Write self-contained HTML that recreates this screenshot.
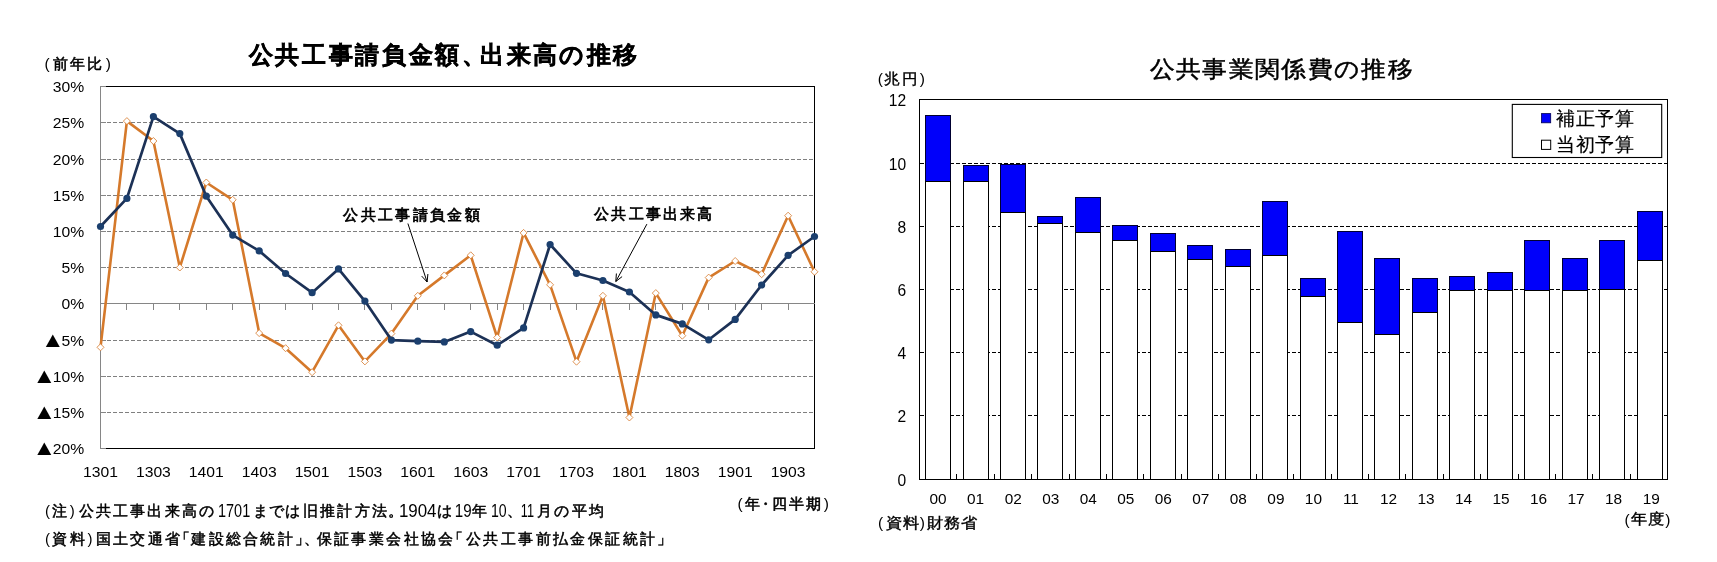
<!DOCTYPE html>
<html lang="ja">
<head>
<meta charset="utf-8">
<title>公共工事請負金額、出来高の推移 / 公共事業関係費の推移</title>
<style>
html,body{margin:0;padding:0;background:#fff;}
body{width:1717px;height:562px;overflow:hidden;font-family:"Liberation Sans", sans-serif;}
svg{display:block;will-change:transform;}
svg text{font-family:"Liberation Sans", sans-serif;}
</style>
</head>
<body>
<svg width="1717" height="562" viewBox="0 0 1717 562">
<rect x="0" y="0" width="1717" height="562" fill="#fff"/>
<g id="left-chart">
<g shape-rendering="crispEdges">
<path d="M100.5 86.5 H814.5 V448.5 H100.5" fill="none" stroke="#000" stroke-width="1.2"/>
<line x1="100.5" x2="814.0" y1="122.5" y2="122.5" stroke="#7f7f7f" stroke-width="1" stroke-dasharray="4 2"/>
<line x1="100.5" x2="814.0" y1="159.5" y2="159.5" stroke="#7f7f7f" stroke-width="1" stroke-dasharray="4 2"/>
<line x1="100.5" x2="814.0" y1="195.5" y2="195.5" stroke="#7f7f7f" stroke-width="1" stroke-dasharray="4 2"/>
<line x1="100.5" x2="814.0" y1="231.5" y2="231.5" stroke="#7f7f7f" stroke-width="1" stroke-dasharray="4 2"/>
<line x1="100.5" x2="814.0" y1="267.5" y2="267.5" stroke="#7f7f7f" stroke-width="1" stroke-dasharray="4 2"/>
<line x1="100.5" x2="814.0" y1="340.5" y2="340.5" stroke="#7f7f7f" stroke-width="1" stroke-dasharray="4 2"/>
<line x1="100.5" x2="814.0" y1="376.5" y2="376.5" stroke="#7f7f7f" stroke-width="1" stroke-dasharray="4 2"/>
<line x1="100.5" x2="814.0" y1="412.5" y2="412.5" stroke="#7f7f7f" stroke-width="1" stroke-dasharray="4 2"/>
<line x1="100.5" x2="100.5" y1="85.9" y2="449.1" stroke="#868686" stroke-width="1.3"/>
<line x1="100.5" x2="106.0" y1="86.5" y2="86.5" stroke="#868686" stroke-width="1.3"/>
<line x1="100.5" x2="106.0" y1="122.5" y2="122.5" stroke="#868686" stroke-width="1.3"/>
<line x1="100.5" x2="106.0" y1="159.5" y2="159.5" stroke="#868686" stroke-width="1.3"/>
<line x1="100.5" x2="106.0" y1="195.5" y2="195.5" stroke="#868686" stroke-width="1.3"/>
<line x1="100.5" x2="106.0" y1="231.5" y2="231.5" stroke="#868686" stroke-width="1.3"/>
<line x1="100.5" x2="106.0" y1="267.5" y2="267.5" stroke="#868686" stroke-width="1.3"/>
<line x1="100.5" x2="106.0" y1="340.5" y2="340.5" stroke="#868686" stroke-width="1.3"/>
<line x1="100.5" x2="106.0" y1="376.5" y2="376.5" stroke="#868686" stroke-width="1.3"/>
<line x1="100.5" x2="106.0" y1="412.5" y2="412.5" stroke="#868686" stroke-width="1.3"/>
<line x1="100.5" x2="106.0" y1="448.5" y2="448.5" stroke="#868686" stroke-width="1.3"/>
<line x1="100.5" x2="814.5" y1="303.5" y2="303.5" stroke="#868686" stroke-width="1.2"/>
<line x1="126.9" x2="126.9" y1="303.5" y2="309.5" stroke="#868686" stroke-width="1.1"/>
<line x1="153.4" x2="153.4" y1="303.5" y2="309.5" stroke="#868686" stroke-width="1.1"/>
<line x1="179.8" x2="179.8" y1="303.5" y2="309.5" stroke="#868686" stroke-width="1.1"/>
<line x1="206.3" x2="206.3" y1="303.5" y2="309.5" stroke="#868686" stroke-width="1.1"/>
<line x1="232.7" x2="232.7" y1="303.5" y2="309.5" stroke="#868686" stroke-width="1.1"/>
<line x1="259.2" x2="259.2" y1="303.5" y2="309.5" stroke="#868686" stroke-width="1.1"/>
<line x1="285.6" x2="285.6" y1="303.5" y2="309.5" stroke="#868686" stroke-width="1.1"/>
<line x1="312.1" x2="312.1" y1="303.5" y2="309.5" stroke="#868686" stroke-width="1.1"/>
<line x1="338.5" x2="338.5" y1="303.5" y2="309.5" stroke="#868686" stroke-width="1.1"/>
<line x1="364.9" x2="364.9" y1="303.5" y2="309.5" stroke="#868686" stroke-width="1.1"/>
<line x1="391.4" x2="391.4" y1="303.5" y2="309.5" stroke="#868686" stroke-width="1.1"/>
<line x1="417.8" x2="417.8" y1="303.5" y2="309.5" stroke="#868686" stroke-width="1.1"/>
<line x1="444.3" x2="444.3" y1="303.5" y2="309.5" stroke="#868686" stroke-width="1.1"/>
<line x1="470.7" x2="470.7" y1="303.5" y2="309.5" stroke="#868686" stroke-width="1.1"/>
<line x1="497.2" x2="497.2" y1="303.5" y2="309.5" stroke="#868686" stroke-width="1.1"/>
<line x1="523.6" x2="523.6" y1="303.5" y2="309.5" stroke="#868686" stroke-width="1.1"/>
<line x1="550.1" x2="550.1" y1="303.5" y2="309.5" stroke="#868686" stroke-width="1.1"/>
<line x1="576.5" x2="576.5" y1="303.5" y2="309.5" stroke="#868686" stroke-width="1.1"/>
<line x1="602.9" x2="602.9" y1="303.5" y2="309.5" stroke="#868686" stroke-width="1.1"/>
<line x1="629.4" x2="629.4" y1="303.5" y2="309.5" stroke="#868686" stroke-width="1.1"/>
<line x1="655.8" x2="655.8" y1="303.5" y2="309.5" stroke="#868686" stroke-width="1.1"/>
<line x1="682.3" x2="682.3" y1="303.5" y2="309.5" stroke="#868686" stroke-width="1.1"/>
<line x1="708.7" x2="708.7" y1="303.5" y2="309.5" stroke="#868686" stroke-width="1.1"/>
<line x1="735.2" x2="735.2" y1="303.5" y2="309.5" stroke="#868686" stroke-width="1.1"/>
<line x1="761.6" x2="761.6" y1="303.5" y2="309.5" stroke="#868686" stroke-width="1.1"/>
<line x1="788.1" x2="788.1" y1="303.5" y2="309.5" stroke="#868686" stroke-width="1.1"/>
</g>
<polyline points="100.5,347.3 126.9,121.1 153.4,141.0 179.8,267.5 206.3,182.5 232.7,199.8 259.2,333.1 285.6,348.2 312.1,372.2 338.5,325.3 364.9,361.4 391.4,333.6 417.8,295.8 444.3,275.4 470.7,255.3 497.2,337.5 523.6,232.9 550.1,284.8 576.5,361.7 602.9,295.8 629.4,417.5 655.8,293.1 682.3,335.7 708.7,277.6 735.2,261.0 761.6,274.2 788.1,215.7 814.5,271.8" fill="none" stroke="#d5792b" stroke-width="2.6" stroke-linejoin="round" stroke-linecap="round"/>
<path d="M97.0 347.3 L100.5 343.8 L104.0 347.3 L100.5 350.8 Z" fill="#fff" stroke="#d5792b" stroke-width="0.8"/>
<path d="M123.4 121.1 L126.9 117.6 L130.4 121.1 L126.9 124.6 Z" fill="#fff" stroke="#d5792b" stroke-width="0.8"/>
<path d="M149.9 141.0 L153.4 137.5 L156.9 141.0 L153.4 144.5 Z" fill="#fff" stroke="#d5792b" stroke-width="0.8"/>
<path d="M176.3 267.5 L179.8 264.0 L183.3 267.5 L179.8 271.0 Z" fill="#fff" stroke="#d5792b" stroke-width="0.8"/>
<path d="M202.8 182.5 L206.3 179.0 L209.8 182.5 L206.3 186.0 Z" fill="#fff" stroke="#d5792b" stroke-width="0.8"/>
<path d="M229.2 199.8 L232.7 196.3 L236.2 199.8 L232.7 203.3 Z" fill="#fff" stroke="#d5792b" stroke-width="0.8"/>
<path d="M255.7 333.1 L259.2 329.6 L262.7 333.1 L259.2 336.6 Z" fill="#fff" stroke="#d5792b" stroke-width="0.8"/>
<path d="M282.1 348.2 L285.6 344.7 L289.1 348.2 L285.6 351.7 Z" fill="#fff" stroke="#d5792b" stroke-width="0.8"/>
<path d="M308.6 372.2 L312.1 368.7 L315.6 372.2 L312.1 375.7 Z" fill="#fff" stroke="#d5792b" stroke-width="0.8"/>
<path d="M335.0 325.3 L338.5 321.8 L342.0 325.3 L338.5 328.8 Z" fill="#fff" stroke="#d5792b" stroke-width="0.8"/>
<path d="M361.4 361.4 L364.9 357.9 L368.4 361.4 L364.9 364.9 Z" fill="#fff" stroke="#d5792b" stroke-width="0.8"/>
<path d="M387.9 333.6 L391.4 330.1 L394.9 333.6 L391.4 337.1 Z" fill="#fff" stroke="#d5792b" stroke-width="0.8"/>
<path d="M414.3 295.8 L417.8 292.3 L421.3 295.8 L417.8 299.3 Z" fill="#fff" stroke="#d5792b" stroke-width="0.8"/>
<path d="M440.8 275.4 L444.3 271.9 L447.8 275.4 L444.3 278.9 Z" fill="#fff" stroke="#d5792b" stroke-width="0.8"/>
<path d="M467.2 255.3 L470.7 251.8 L474.2 255.3 L470.7 258.8 Z" fill="#fff" stroke="#d5792b" stroke-width="0.8"/>
<path d="M493.7 337.5 L497.2 334.0 L500.7 337.5 L497.2 341.0 Z" fill="#fff" stroke="#d5792b" stroke-width="0.8"/>
<path d="M520.1 232.9 L523.6 229.4 L527.1 232.9 L523.6 236.4 Z" fill="#fff" stroke="#d5792b" stroke-width="0.8"/>
<path d="M546.6 284.8 L550.1 281.3 L553.6 284.8 L550.1 288.3 Z" fill="#fff" stroke="#d5792b" stroke-width="0.8"/>
<path d="M573.0 361.7 L576.5 358.2 L580.0 361.7 L576.5 365.2 Z" fill="#fff" stroke="#d5792b" stroke-width="0.8"/>
<path d="M599.4 295.8 L602.9 292.3 L606.4 295.8 L602.9 299.3 Z" fill="#fff" stroke="#d5792b" stroke-width="0.8"/>
<path d="M625.9 417.5 L629.4 414.0 L632.9 417.5 L629.4 421.0 Z" fill="#fff" stroke="#d5792b" stroke-width="0.8"/>
<path d="M652.3 293.1 L655.8 289.6 L659.3 293.1 L655.8 296.6 Z" fill="#fff" stroke="#d5792b" stroke-width="0.8"/>
<path d="M678.8 335.7 L682.3 332.2 L685.8 335.7 L682.3 339.2 Z" fill="#fff" stroke="#d5792b" stroke-width="0.8"/>
<path d="M705.2 277.6 L708.7 274.1 L712.2 277.6 L708.7 281.1 Z" fill="#fff" stroke="#d5792b" stroke-width="0.8"/>
<path d="M731.7 261.0 L735.2 257.5 L738.7 261.0 L735.2 264.5 Z" fill="#fff" stroke="#d5792b" stroke-width="0.8"/>
<path d="M758.1 274.2 L761.6 270.7 L765.1 274.2 L761.6 277.7 Z" fill="#fff" stroke="#d5792b" stroke-width="0.8"/>
<path d="M784.6 215.7 L788.1 212.2 L791.6 215.7 L788.1 219.2 Z" fill="#fff" stroke="#d5792b" stroke-width="0.8"/>
<path d="M811.0 271.8 L814.5 268.3 L818.0 271.8 L814.5 275.3 Z" fill="#fff" stroke="#d5792b" stroke-width="0.8"/>
<polyline points="100.5,226.5 126.9,198.4 153.4,116.7 179.8,133.6 206.3,196.2 232.7,235.1 259.2,250.9 285.6,273.5 312.1,292.7 338.5,268.9 364.9,301.1 391.4,340.1 417.8,341.2 444.3,341.9 470.7,331.6 497.2,345.2 523.6,327.9 550.1,244.5 576.5,273.3 602.9,280.5 629.4,292.0 655.8,314.9 682.3,323.9 708.7,339.8 735.2,319.4 761.6,285.0 788.1,255.3 814.5,236.5" fill="none" stroke="#1c3156" stroke-width="2.7" stroke-linejoin="round" stroke-linecap="round"/>
<circle cx="100.5" cy="226.5" r="3.6" fill="#1b3f6e"/>
<circle cx="126.9" cy="198.4" r="3.6" fill="#1b3f6e"/>
<circle cx="153.4" cy="116.7" r="3.6" fill="#1b3f6e"/>
<circle cx="179.8" cy="133.6" r="3.6" fill="#1b3f6e"/>
<circle cx="206.3" cy="196.2" r="3.6" fill="#1b3f6e"/>
<circle cx="232.7" cy="235.1" r="3.6" fill="#1b3f6e"/>
<circle cx="259.2" cy="250.9" r="3.6" fill="#1b3f6e"/>
<circle cx="285.6" cy="273.5" r="3.6" fill="#1b3f6e"/>
<circle cx="312.1" cy="292.7" r="3.6" fill="#1b3f6e"/>
<circle cx="338.5" cy="268.9" r="3.6" fill="#1b3f6e"/>
<circle cx="364.9" cy="301.1" r="3.6" fill="#1b3f6e"/>
<circle cx="391.4" cy="340.1" r="3.6" fill="#1b3f6e"/>
<circle cx="417.8" cy="341.2" r="3.6" fill="#1b3f6e"/>
<circle cx="444.3" cy="341.9" r="3.6" fill="#1b3f6e"/>
<circle cx="470.7" cy="331.6" r="3.6" fill="#1b3f6e"/>
<circle cx="497.2" cy="345.2" r="3.6" fill="#1b3f6e"/>
<circle cx="523.6" cy="327.9" r="3.6" fill="#1b3f6e"/>
<circle cx="550.1" cy="244.5" r="3.6" fill="#1b3f6e"/>
<circle cx="576.5" cy="273.3" r="3.6" fill="#1b3f6e"/>
<circle cx="602.9" cy="280.5" r="3.6" fill="#1b3f6e"/>
<circle cx="629.4" cy="292.0" r="3.6" fill="#1b3f6e"/>
<circle cx="655.8" cy="314.9" r="3.6" fill="#1b3f6e"/>
<circle cx="682.3" cy="323.9" r="3.6" fill="#1b3f6e"/>
<circle cx="708.7" cy="339.8" r="3.6" fill="#1b3f6e"/>
<circle cx="735.2" cy="319.4" r="3.6" fill="#1b3f6e"/>
<circle cx="761.6" cy="285.0" r="3.6" fill="#1b3f6e"/>
<circle cx="788.1" cy="255.3" r="3.6" fill="#1b3f6e"/>
<circle cx="814.5" cy="236.5" r="3.6" fill="#1b3f6e"/>
<text x="84.2" y="91.6" font-size="15.4" text-anchor="end" textLength="31.4" lengthAdjust="spacingAndGlyphs" fill="#000">30%</text>
<text x="84.2" y="127.6" font-size="15.4" text-anchor="end" textLength="31.4" lengthAdjust="spacingAndGlyphs" fill="#000">25%</text>
<text x="84.2" y="164.6" font-size="15.4" text-anchor="end" textLength="31.4" lengthAdjust="spacingAndGlyphs" fill="#000">20%</text>
<text x="84.2" y="200.6" font-size="15.4" text-anchor="end" textLength="31.4" lengthAdjust="spacingAndGlyphs" fill="#000">15%</text>
<text x="84.2" y="236.6" font-size="15.4" text-anchor="end" textLength="31.4" lengthAdjust="spacingAndGlyphs" fill="#000">10%</text>
<text x="84.2" y="272.6" font-size="15.4" text-anchor="end" textLength="22.7" lengthAdjust="spacingAndGlyphs" fill="#000">5%</text>
<text x="84.2" y="308.6" font-size="15.4" text-anchor="end" textLength="22.7" lengthAdjust="spacingAndGlyphs" fill="#000">0%</text>
<text x="84.2" y="345.6" font-size="15.4" text-anchor="end" textLength="22.7" lengthAdjust="spacingAndGlyphs" fill="#000">5%</text>
<text x="64.7" y="346.8" font-size="21.3" text-anchor="end" textLength="23.6" lengthAdjust="spacingAndGlyphs" fill="#000">▲</text>
<text x="84.2" y="381.6" font-size="15.4" text-anchor="end" textLength="31.4" lengthAdjust="spacingAndGlyphs" fill="#000">10%</text>
<text x="56.0" y="382.8" font-size="21.3" text-anchor="end" textLength="23.6" lengthAdjust="spacingAndGlyphs" fill="#000">▲</text>
<text x="84.2" y="417.6" font-size="15.4" text-anchor="end" textLength="31.4" lengthAdjust="spacingAndGlyphs" fill="#000">15%</text>
<text x="56.0" y="418.8" font-size="21.3" text-anchor="end" textLength="23.6" lengthAdjust="spacingAndGlyphs" fill="#000">▲</text>
<text x="84.2" y="453.6" font-size="15.4" text-anchor="end" textLength="31.4" lengthAdjust="spacingAndGlyphs" fill="#000">20%</text>
<text x="56.0" y="454.8" font-size="21.3" text-anchor="end" textLength="23.6" lengthAdjust="spacingAndGlyphs" fill="#000">▲</text>
<text x="100.5" y="476.7" font-size="15.4" text-anchor="middle" textLength="34.9" lengthAdjust="spacingAndGlyphs" fill="#000">1301</text>
<text x="153.4" y="476.7" font-size="15.4" text-anchor="middle" textLength="34.9" lengthAdjust="spacingAndGlyphs" fill="#000">1303</text>
<text x="206.3" y="476.7" font-size="15.4" text-anchor="middle" textLength="34.9" lengthAdjust="spacingAndGlyphs" fill="#000">1401</text>
<text x="259.2" y="476.7" font-size="15.4" text-anchor="middle" textLength="34.9" lengthAdjust="spacingAndGlyphs" fill="#000">1403</text>
<text x="312.1" y="476.7" font-size="15.4" text-anchor="middle" textLength="34.9" lengthAdjust="spacingAndGlyphs" fill="#000">1501</text>
<text x="364.9" y="476.7" font-size="15.4" text-anchor="middle" textLength="34.9" lengthAdjust="spacingAndGlyphs" fill="#000">1503</text>
<text x="417.8" y="476.7" font-size="15.4" text-anchor="middle" textLength="34.9" lengthAdjust="spacingAndGlyphs" fill="#000">1601</text>
<text x="470.7" y="476.7" font-size="15.4" text-anchor="middle" textLength="34.9" lengthAdjust="spacingAndGlyphs" fill="#000">1603</text>
<text x="523.6" y="476.7" font-size="15.4" text-anchor="middle" textLength="34.9" lengthAdjust="spacingAndGlyphs" fill="#000">1701</text>
<text x="576.5" y="476.7" font-size="15.4" text-anchor="middle" textLength="34.9" lengthAdjust="spacingAndGlyphs" fill="#000">1703</text>
<text x="629.4" y="476.7" font-size="15.4" text-anchor="middle" textLength="34.9" lengthAdjust="spacingAndGlyphs" fill="#000">1801</text>
<text x="682.3" y="476.7" font-size="15.4" text-anchor="middle" textLength="34.9" lengthAdjust="spacingAndGlyphs" fill="#000">1803</text>
<text x="735.2" y="476.7" font-size="15.4" text-anchor="middle" textLength="34.9" lengthAdjust="spacingAndGlyphs" fill="#000">1901</text>
<text x="788.1" y="476.7" font-size="15.4" text-anchor="middle" textLength="34.9" lengthAdjust="spacingAndGlyphs" fill="#000">1903</text>
<text x="248.5" y="62.9" font-size="24" font-weight="bold" stroke="#000" stroke-width="0.45" letter-spacing="2.7" fill="#000">公共工事請負金額</text>
<text x="461.6" y="62.9" font-size="24" font-weight="bold" stroke="#000" stroke-width="0.45" fill="#000">、</text>
<text x="480.4" y="62.9" font-size="24" font-weight="bold" stroke="#000" stroke-width="0.45" letter-spacing="2.3" fill="#000">出来高の推移</text>
<text x="44.6" y="69.1" font-size="15.5" fill="#000">(</text>
<text x="52.5" y="68.8" font-size="15" stroke="#000" stroke-width="0.55" letter-spacing="2.35" fill="#000">前年比</text>
<text x="105.8" y="69.1" font-size="15.5" fill="#000">)</text>
<text x="737.5" y="508.8" font-size="15.5" fill="#000">(</text>
<text x="745.4" y="508.8" font-size="15" stroke="#000" stroke-width="0.55" fill="#000">年</text>
<text x="758.4" y="508.8" font-size="15" stroke="#000" stroke-width="0.55" fill="#000">・</text>
<text x="772.0" y="508.8" font-size="15" stroke="#000" stroke-width="0.55" letter-spacing="2.0" fill="#000">四半期</text>
<text x="823.8" y="508.8" font-size="15.5" fill="#000">)</text>
<text x="343.2" y="220.0" font-size="15" stroke="#000" stroke-width="0.7" letter-spacing="2.35" fill="#000">公共工事請負金額</text>
<text x="594.3" y="219.0" font-size="15" stroke="#000" stroke-width="0.7" letter-spacing="2.2" fill="#000">公共工事出来高</text>
<line x1="407.9" y1="223.5" x2="427.1" y2="282.0" stroke="#000" stroke-width="1"/>
<line x1="427.1" y1="282.0" x2="427.9" y2="274.0" stroke="#000" stroke-width="1"/>
<line x1="427.1" y1="282.0" x2="421.7" y2="276.1" stroke="#000" stroke-width="1"/>
<line x1="646.9" y1="224.1" x2="615.8" y2="281.5" stroke="#000" stroke-width="1"/>
<line x1="615.8" y1="281.5" x2="622.1" y2="276.6" stroke="#000" stroke-width="1"/>
<line x1="615.8" y1="281.5" x2="616.4" y2="273.5" stroke="#000" stroke-width="1"/>
<text x="45.0" y="515.8" font-size="15" fill="#000">(</text>
<text x="52.2" y="515.9" font-size="15" stroke="#000" stroke-width="0.5" fill="#000">注</text>
<text x="69.8" y="515.8" font-size="15" fill="#000">)</text>
<text x="78.9" y="515.9" font-size="15" stroke="#000" stroke-width="0.5" letter-spacing="2.15" fill="#000">公共工事出来高の</text>
<text x="218.0" y="516.7" font-size="17.5" textLength="32.2" lengthAdjust="spacingAndGlyphs" fill="#000">1701</text>
<text x="252.9" y="515.9" font-size="15" stroke="#000" stroke-width="0.5" letter-spacing="1.1" fill="#000">までは</text>
<text x="303.1" y="515.9" font-size="15" stroke="#000" stroke-width="0.5" letter-spacing="2.15" fill="#000">旧推計方法</text>
<text x="388.2" y="515.9" font-size="15" stroke="#000" stroke-width="0.5" fill="#000">。</text>
<text x="398.9" y="516.7" font-size="17.5" textLength="37.6" lengthAdjust="spacingAndGlyphs" fill="#000">1904</text>
<text x="436.6" y="515.9" font-size="15" stroke="#000" stroke-width="0.5" fill="#000">は</text>
<text x="454.8" y="516.7" font-size="17.5" textLength="16.8" lengthAdjust="spacingAndGlyphs" fill="#000">19</text>
<text x="472.4" y="515.9" font-size="15" stroke="#000" stroke-width="0.5" fill="#000">年</text>
<text x="491.0" y="516.7" font-size="17.5" textLength="15.7" lengthAdjust="spacingAndGlyphs" fill="#000">10</text>
<text x="506.6" y="515.9" font-size="15" stroke="#000" stroke-width="0.5" fill="#000">、</text>
<text x="520.8" y="516.7" font-size="17.5" textLength="13.2" lengthAdjust="spacingAndGlyphs" fill="#000">11</text>
<text x="536.8" y="515.9" font-size="15" stroke="#000" stroke-width="0.5" letter-spacing="2.5" fill="#000">月の平均</text>
<text x="44.9" y="544.0" font-size="15" fill="#000">(</text>
<text x="52.2" y="544.1" font-size="15" stroke="#000" stroke-width="0.5" letter-spacing="2.4" fill="#000">資料</text>
<text x="87.5" y="544.0" font-size="15" fill="#000">)</text>
<text x="96.3" y="544.1" font-size="15" stroke="#000" stroke-width="0.5" letter-spacing="2.1" fill="#000">国土交通省</text>
<text x="174.5" y="544.1" font-size="15" stroke="#000" stroke-width="0.5" fill="#000">「</text>
<text x="191.3" y="544.1" font-size="15" stroke="#000" stroke-width="0.5" letter-spacing="2.3" fill="#000">建設総合統計</text>
<text x="294.7" y="544.1" font-size="15" stroke="#000" stroke-width="0.5" fill="#000">」</text>
<text x="303.7" y="544.1" font-size="15" stroke="#000" stroke-width="0.5" fill="#000">、</text>
<text x="316.7" y="544.1" font-size="15" stroke="#000" stroke-width="0.5" letter-spacing="2.39" fill="#000">保証事業会社協会</text>
<text x="448.0" y="544.1" font-size="15" stroke="#000" stroke-width="0.5" fill="#000">「</text>
<text x="466.1" y="544.1" font-size="15" stroke="#000" stroke-width="0.5" letter-spacing="2.39" fill="#000">公共工事前払金保証統計</text>
<text x="656.7" y="544.1" font-size="15" stroke="#000" stroke-width="0.5" fill="#000">」</text>
</g>
<g id="right-chart">
<g shape-rendering="crispEdges">
<line x1="919.5" x2="1667.7" y1="415.5" y2="415.5" stroke="#000" stroke-width="1" stroke-dasharray="4.5 1.5"/>
<line x1="919.5" x2="1667.7" y1="352.3" y2="352.3" stroke="#000" stroke-width="1" stroke-dasharray="4.5 1.5"/>
<line x1="919.5" x2="1667.7" y1="289.3" y2="289.3" stroke="#000" stroke-width="1" stroke-dasharray="4.5 1.5"/>
<line x1="919.5" x2="1667.7" y1="226.5" y2="226.5" stroke="#000" stroke-width="1" stroke-dasharray="4.5 1.5"/>
<line x1="919.5" x2="1667.7" y1="163.3" y2="163.3" stroke="#000" stroke-width="1" stroke-dasharray="4.5 1.5"/>
<rect x="925.5" y="115.9" width="25" height="65.1" fill="#0000fa" stroke="#000030" stroke-width="1"/>
<rect x="925.5" y="181.0" width="25" height="298.2" fill="#fff" stroke="#000" stroke-width="1"/>
<rect x="963.5" y="165.5" width="25" height="15.5" fill="#0000fa" stroke="#000030" stroke-width="1"/>
<rect x="963.5" y="181.0" width="25" height="298.2" fill="#fff" stroke="#000" stroke-width="1"/>
<rect x="1000.5" y="164.2" width="25" height="48.3" fill="#0000fa" stroke="#000030" stroke-width="1"/>
<rect x="1000.5" y="212.6" width="25" height="266.6" fill="#fff" stroke="#000" stroke-width="1"/>
<rect x="1037.5" y="216.4" width="25" height="7.0" fill="#0000fa" stroke="#000030" stroke-width="1"/>
<rect x="1037.5" y="223.3" width="25" height="255.9" fill="#fff" stroke="#000" stroke-width="1"/>
<rect x="1075.5" y="197.4" width="25" height="34.7" fill="#0000fa" stroke="#000030" stroke-width="1"/>
<rect x="1075.5" y="232.2" width="25" height="247.0" fill="#fff" stroke="#000" stroke-width="1"/>
<rect x="1112.5" y="225.6" width="25" height="14.8" fill="#0000fa" stroke="#000030" stroke-width="1"/>
<rect x="1112.5" y="240.3" width="25" height="238.9" fill="#fff" stroke="#000" stroke-width="1"/>
<rect x="1150.5" y="233.4" width="25" height="18.2" fill="#0000fa" stroke="#000030" stroke-width="1"/>
<rect x="1150.5" y="251.6" width="25" height="227.6" fill="#fff" stroke="#000" stroke-width="1"/>
<rect x="1187.5" y="245.3" width="25" height="13.8" fill="#0000fa" stroke="#000030" stroke-width="1"/>
<rect x="1187.5" y="259.2" width="25" height="220.0" fill="#fff" stroke="#000" stroke-width="1"/>
<rect x="1225.5" y="249.4" width="25" height="17.0" fill="#0000fa" stroke="#000030" stroke-width="1"/>
<rect x="1225.5" y="266.4" width="25" height="212.8" fill="#fff" stroke="#000" stroke-width="1"/>
<rect x="1262.5" y="201.2" width="25" height="54.2" fill="#0000fa" stroke="#000030" stroke-width="1"/>
<rect x="1262.5" y="255.4" width="25" height="223.8" fill="#fff" stroke="#000" stroke-width="1"/>
<rect x="1300.5" y="278.0" width="25" height="18.5" fill="#0000fa" stroke="#000030" stroke-width="1"/>
<rect x="1300.5" y="296.5" width="25" height="182.7" fill="#fff" stroke="#000" stroke-width="1"/>
<rect x="1337.5" y="231.2" width="25" height="91.2" fill="#0000fa" stroke="#000030" stroke-width="1"/>
<rect x="1337.5" y="322.4" width="25" height="156.8" fill="#fff" stroke="#000" stroke-width="1"/>
<rect x="1374.5" y="258.2" width="25" height="75.8" fill="#0000fa" stroke="#000030" stroke-width="1"/>
<rect x="1374.5" y="334.0" width="25" height="145.2" fill="#fff" stroke="#000" stroke-width="1"/>
<rect x="1412.5" y="278.0" width="25" height="34.3" fill="#0000fa" stroke="#000030" stroke-width="1"/>
<rect x="1412.5" y="312.3" width="25" height="166.9" fill="#fff" stroke="#000" stroke-width="1"/>
<rect x="1449.5" y="276.1" width="25" height="14.4" fill="#0000fa" stroke="#000030" stroke-width="1"/>
<rect x="1449.5" y="290.6" width="25" height="188.6" fill="#fff" stroke="#000" stroke-width="1"/>
<rect x="1487.5" y="272.0" width="25" height="18.5" fill="#0000fa" stroke="#000030" stroke-width="1"/>
<rect x="1487.5" y="290.6" width="25" height="188.6" fill="#fff" stroke="#000" stroke-width="1"/>
<rect x="1524.5" y="240.3" width="25" height="50.2" fill="#0000fa" stroke="#000030" stroke-width="1"/>
<rect x="1524.5" y="290.6" width="25" height="188.6" fill="#fff" stroke="#000" stroke-width="1"/>
<rect x="1562.5" y="258.2" width="25" height="32.3" fill="#0000fa" stroke="#000030" stroke-width="1"/>
<rect x="1562.5" y="290.6" width="25" height="188.6" fill="#fff" stroke="#000" stroke-width="1"/>
<rect x="1599.5" y="240.3" width="25" height="49.0" fill="#0000fa" stroke="#000030" stroke-width="1"/>
<rect x="1599.5" y="289.3" width="25" height="189.9" fill="#fff" stroke="#000" stroke-width="1"/>
<rect x="1637.5" y="211.3" width="25" height="49.4" fill="#0000fa" stroke="#000030" stroke-width="1"/>
<rect x="1637.5" y="260.7" width="25" height="218.5" fill="#fff" stroke="#000" stroke-width="1"/>
<line x1="956.5" x2="956.5" y1="479.2" y2="473.7" stroke="#000" stroke-width="1"/>
<line x1="994.5" x2="994.5" y1="479.2" y2="473.7" stroke="#000" stroke-width="1"/>
<line x1="1031.5" x2="1031.5" y1="479.2" y2="473.7" stroke="#000" stroke-width="1"/>
<line x1="1069.5" x2="1069.5" y1="479.2" y2="473.7" stroke="#000" stroke-width="1"/>
<line x1="1106.5" x2="1106.5" y1="479.2" y2="473.7" stroke="#000" stroke-width="1"/>
<line x1="1143.5" x2="1143.5" y1="479.2" y2="473.7" stroke="#000" stroke-width="1"/>
<line x1="1181.5" x2="1181.5" y1="479.2" y2="473.7" stroke="#000" stroke-width="1"/>
<line x1="1218.5" x2="1218.5" y1="479.2" y2="473.7" stroke="#000" stroke-width="1"/>
<line x1="1256.5" x2="1256.5" y1="479.2" y2="473.7" stroke="#000" stroke-width="1"/>
<line x1="1293.5" x2="1293.5" y1="479.2" y2="473.7" stroke="#000" stroke-width="1"/>
<line x1="1331.5" x2="1331.5" y1="479.2" y2="473.7" stroke="#000" stroke-width="1"/>
<line x1="1368.5" x2="1368.5" y1="479.2" y2="473.7" stroke="#000" stroke-width="1"/>
<line x1="1405.5" x2="1405.5" y1="479.2" y2="473.7" stroke="#000" stroke-width="1"/>
<line x1="1443.5" x2="1443.5" y1="479.2" y2="473.7" stroke="#000" stroke-width="1"/>
<line x1="1480.5" x2="1480.5" y1="479.2" y2="473.7" stroke="#000" stroke-width="1"/>
<line x1="1518.5" x2="1518.5" y1="479.2" y2="473.7" stroke="#000" stroke-width="1"/>
<line x1="1555.5" x2="1555.5" y1="479.2" y2="473.7" stroke="#000" stroke-width="1"/>
<line x1="1592.5" x2="1592.5" y1="479.2" y2="473.7" stroke="#000" stroke-width="1"/>
<line x1="1630.5" x2="1630.5" y1="479.2" y2="473.7" stroke="#000" stroke-width="1"/>
<rect x="919.5" y="99.3" width="748.2" height="379.9" fill="none" stroke="#000" stroke-width="1.2"/>
</g>
<text x="906.2" y="485.5" font-size="15.6" text-anchor="end" fill="#000">0</text>
<text x="906.2" y="421.8" font-size="15.6" text-anchor="end" fill="#000">2</text>
<text x="906.2" y="358.6" font-size="15.6" text-anchor="end" fill="#000">4</text>
<text x="906.2" y="295.6" font-size="15.6" text-anchor="end" fill="#000">6</text>
<text x="906.2" y="232.8" font-size="15.6" text-anchor="end" fill="#000">8</text>
<text x="906.2" y="169.6" font-size="15.6" text-anchor="end" fill="#000">10</text>
<text x="906.2" y="105.6" font-size="15.6" text-anchor="end" fill="#000">12</text>
<text x="938.1" y="504.3" font-size="15.4" text-anchor="middle" fill="#000">00</text>
<text x="975.6" y="504.3" font-size="15.4" text-anchor="middle" fill="#000">01</text>
<text x="1013.2" y="504.3" font-size="15.4" text-anchor="middle" fill="#000">02</text>
<text x="1050.7" y="504.3" font-size="15.4" text-anchor="middle" fill="#000">03</text>
<text x="1088.2" y="504.3" font-size="15.4" text-anchor="middle" fill="#000">04</text>
<text x="1125.8" y="504.3" font-size="15.4" text-anchor="middle" fill="#000">05</text>
<text x="1163.3" y="504.3" font-size="15.4" text-anchor="middle" fill="#000">06</text>
<text x="1200.8" y="504.3" font-size="15.4" text-anchor="middle" fill="#000">07</text>
<text x="1238.3" y="504.3" font-size="15.4" text-anchor="middle" fill="#000">08</text>
<text x="1275.9" y="504.3" font-size="15.4" text-anchor="middle" fill="#000">09</text>
<text x="1313.4" y="504.3" font-size="15.4" text-anchor="middle" fill="#000">10</text>
<text x="1350.9" y="504.3" font-size="15.4" text-anchor="middle" fill="#000">11</text>
<text x="1388.5" y="504.3" font-size="15.4" text-anchor="middle" fill="#000">12</text>
<text x="1426.0" y="504.3" font-size="15.4" text-anchor="middle" fill="#000">13</text>
<text x="1463.5" y="504.3" font-size="15.4" text-anchor="middle" fill="#000">14</text>
<text x="1501.1" y="504.3" font-size="15.4" text-anchor="middle" fill="#000">15</text>
<text x="1538.6" y="504.3" font-size="15.4" text-anchor="middle" fill="#000">16</text>
<text x="1576.1" y="504.3" font-size="15.4" text-anchor="middle" fill="#000">17</text>
<text x="1613.6" y="504.3" font-size="15.4" text-anchor="middle" fill="#000">18</text>
<text x="1651.2" y="504.3" font-size="15.4" text-anchor="middle" fill="#000">19</text>
<text x="1149.9" y="77.3" font-size="23" stroke="#000" stroke-width="0.5" letter-spacing="1.44" textLength="264.0" lengthAdjust="spacingAndGlyphs" fill="#000">公共事業関係費の推移</text>
<text x="877.8" y="84.3" font-size="15.5" fill="#000">(</text>
<text x="884.3" y="84.2" font-size="15" stroke="#000" stroke-width="0.4" letter-spacing="2.31" textLength="36.0" lengthAdjust="spacingAndGlyphs" fill="#000">兆円</text>
<text x="919.8" y="84.3" font-size="15.5" fill="#000">)</text>
<text x="878.0" y="527.9" font-size="15.5" fill="#000">(</text>
<text x="885.5" y="527.8" font-size="15" stroke="#000" stroke-width="0.4" letter-spacing="1.02" textLength="34.6" lengthAdjust="spacingAndGlyphs" fill="#000">資料</text>
<text x="919.7" y="527.9" font-size="15.5" fill="#000">)</text>
<text x="927.0" y="527.8" font-size="15" stroke="#000" stroke-width="0.4" letter-spacing="0.74" textLength="51.0" lengthAdjust="spacingAndGlyphs" fill="#000">財務省</text>
<text x="1624.4" y="524.5" font-size="15.5" fill="#000">(</text>
<text x="1631.0" y="524.4" font-size="15" stroke="#000" stroke-width="0.4" letter-spacing="1.11" textLength="34.8" lengthAdjust="spacingAndGlyphs" fill="#000">年度</text>
<text x="1665.2" y="524.5" font-size="15.5" fill="#000">)</text>
<rect x="1512.3" y="104.4" width="149.4" height="53.1" fill="#fff" stroke="#000" stroke-width="1.1"/>
<rect x="1541.5" y="113.6" width="9.2" height="9.2" fill="#0000fa" stroke="#000050" stroke-width="0.8"/>
<rect x="1541.5" y="140.2" width="9.2" height="9.2" fill="#fff" stroke="#000" stroke-width="1"/>
<text x="1556.0" y="124.6" font-size="19" stroke="#000" stroke-width="0.2" letter-spacing="0.6" fill="#000">補正予算</text>
<text x="1556.0" y="150.7" font-size="19" stroke="#000" stroke-width="0.2" letter-spacing="0.6" fill="#000">当初予算</text>
</g>
</svg>
</body>
</html>
